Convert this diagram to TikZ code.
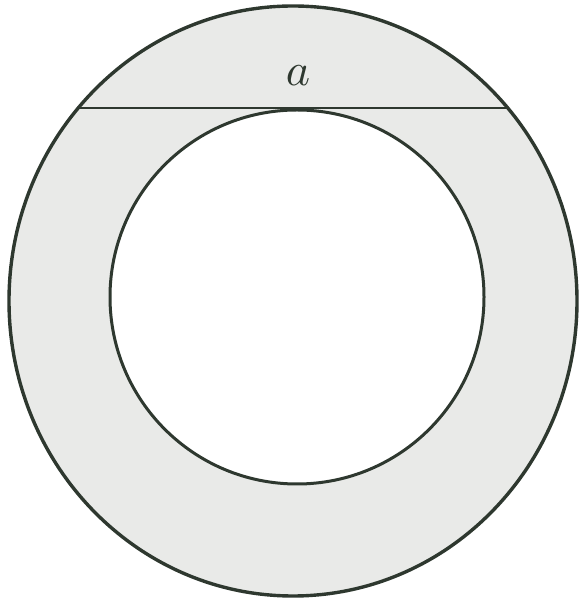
\documentclass[tikz,border=0pt]{standalone}
\definecolor{ink}{HTML}{2E382F}
\definecolor{ringfill}{HTML}{E9EAE8}
\tikzset{
  ringline/.style={draw=ink, line width=3.4pt},
  innerline/.style={draw=ink, line width=3pt},
  chordline/.style={draw=ink, line width=2pt}
}
\begin{document}
\begin{tikzpicture}[x=1pt,y=1pt]
  \useasboundingbox (0,0) rectangle (578,599);
  % outer disc (annulus fill)
  \path[ringline, fill=ringfill] (293,298) ellipse [x radius=284, y radius=295];
  % inner hole
  \path[innerline, fill=white] (297,302) circle [radius=187];
  % chord tangent to inner circle
  \coordinate (cl) at (79,491);
  \coordinate (cr) at (508,491);
  \draw[chordline] (cl) -- (cr);
  % label
  \node[inner sep=0pt, text=ink, scale=4.6] (lbl) at (298,523) {$a$};
\end{tikzpicture}
\end{document}
